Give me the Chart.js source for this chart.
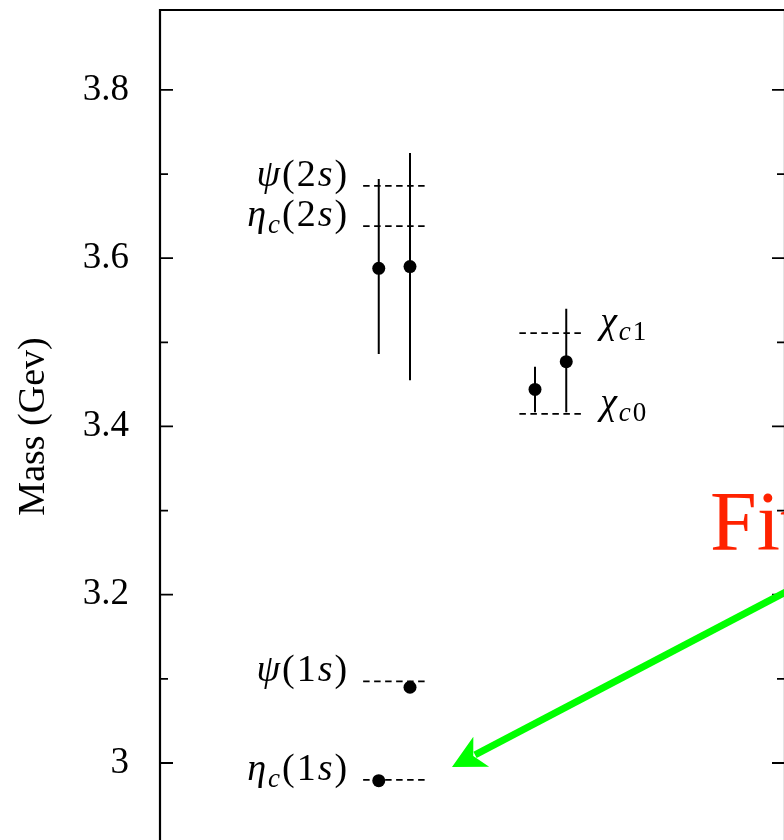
<!DOCTYPE html>
<html><head><meta charset="utf-8">
<script src="https://cdn.jsdelivr.net/npm/chart.js@4/dist/chart.umd.min.js"></script>
<style>
html,body{margin:0;padding:0;overflow:hidden;background:#fff;width:784px;height:840px}
#wrap{position:absolute;left:0;top:0;width:800px;height:960px}
</style>
</head><body>
<div id="wrap"><canvas id="c" width="800" height="960"></canvas></div>
<script>
// ---- data ----
const levelNames = ['ψ(2s)', 'η_c(2s)', 'χ_c1', 'χ_c0', 'ψ(1s)', 'η_c(1s)'];
const levelMass  = [3.686, 3.638, 3.511, 3.415, 3.097, 2.980];
const levelXFrom = [3.25, 3.25, 5.75, 5.75, 3.25, 3.25];
const levelXTo   = [4.27, 4.27, 6.77, 6.77, 4.27, 4.27];
const levelLabelSide = ['left', 'left', 'right', 'right', 'left', 'left'];

const pointX    = [3.5, 4.0, 6.0, 6.5, 4.0, 3.5];
const pointMass = [3.588, 3.590, 3.444, 3.477, 3.090, 2.979];
const errLow    = [3.486, 3.455, 3.417, 3.417, null, null];
const errHigh   = [3.694, 3.725, 3.471, 3.540, null, null];

const majorTicks = [3.0, 3.2, 3.4, 3.6, 3.8];
const majorTickLabels = ['3', '3.2', '3.4', '3.6', '3.8'];
const minorTicks = [2.9, 3.1, 3.3, 3.5, 3.7];
const yTitle = 'Mass (Gev)';

const noteText = 'Fit';
const noteAt = {x: 8.80, y: 3.2532};
const arrowFrom = {x: 10.4, y: 3.2183};
const arrowTo = {x: 4.672, y: 2.9952};

// ---- build datasets ----
const datasets = [];
datasets.push({
  type: 'scatter',
  data: pointX.map((x, i) => ({x: x, y: pointMass[i]})),
  pointRadius: 6.5, pointBackgroundColor: '#000', pointBorderWidth: 0,
  pointHoverRadius: 6.5
});
errLow.forEach((lo, i) => {
  if (lo === null) return;
  datasets.push({
    type: 'line',
    data: [{x: pointX[i], y: lo}, {x: pointX[i], y: errHigh[i]}],
    borderColor: '#000', borderWidth: 2, pointRadius: 0, fill: false
  });
});
levelMass.forEach((m, i) => {
  datasets.push({
    type: 'line',
    data: [{x: levelXFrom[i], y: m}, {x: levelXTo[i], y: m}],
    borderColor: '#000', borderWidth: 1.7, borderDash: [6.5, 4.5], pointRadius: 0, fill: false
  });
});

const FAM = '"Liberation Serif", "DejaVu Serif", serif';

function parseLabel(s) {
  const runs = [];
  let i = 0;
  while (i < s.length) {
    const ch = s[i];
    if (ch === '_') {
      i++;
      while (i < s.length && /[A-Za-z0-9]/.test(s[i])) {
        runs.push({t: s[i], sub: true, it: /[A-Za-z]/.test(s[i])});
        i++;
      }
      continue;
    }
    runs.push({t: ch, sub: false, it: !/[0-9()\s]/.test(ch)});
    i++;
  }
  return runs;
}

function drawRich(ctx, s, x, y, align) {
  const size = 38, subSize = 27, subShift = 7, gap = 2;
  const runs = parseLabel(s);
  const fontOf = r => (r.it ? 'italic ' : '') + (r.sub ? subSize : size) + 'px ' + FAM;
  let total = 0;
  runs.forEach(r => { ctx.font = fontOf(r); r.w = ctx.measureText(r.t).width + gap; total += r.w; });
  total -= gap;
  let cx = align === 'right' ? x - total : x;
  ctx.textBaseline = 'alphabetic';
  ctx.textAlign = 'left';
  runs.forEach(r => {
    ctx.font = fontOf(r);
    ctx.fillText(r.t, cx, y + (r.sub ? subShift : 0));
    cx += r.w;
  });
}

const decor = {
  id: 'decor',
  afterDraw(chart) {
    const ctx = chart.ctx;
    const ys = chart.scales.y, xs = chart.scales.x;
    const a = chart.chartArea;
    ctx.save();
    // frame
    ctx.strokeStyle = '#000';
    ctx.lineWidth = 2.2;
    ctx.beginPath();
    ctx.moveTo(a.left, a.bottom); ctx.lineTo(a.left, a.top); ctx.lineTo(a.right, a.top); ctx.lineTo(a.right, a.bottom);
    ctx.stroke();
    // ticks inward
    ctx.lineWidth = 1.8;
    const tick = (v, len) => {
      const py = ys.getPixelForValue(v);
      if (py < a.top || py > a.bottom) return;
      ctx.beginPath();
      ctx.moveTo(a.left, py); ctx.lineTo(a.left + len, py);
      ctx.moveTo(a.right, py); ctx.lineTo(a.right - len, py);
      ctx.stroke();
    };
    majorTicks.forEach(v => tick(v, 13));
    minorTicks.forEach(v => tick(v, 8));
    // y title
    ctx.fillStyle = '#000';
    ctx.save();
    ctx.translate(34, ys.getPixelForValue(3.4));
    ctx.rotate(-Math.PI / 2);
    ctx.font = '38px ' + FAM;
    ctx.textAlign = 'center';
    ctx.textBaseline = 'middle';
    ctx.fillText(yTitle, 0, 0);
    ctx.restore();
    // level labels
    levelNames.forEach((n, i) => {
      const py = ys.getPixelForValue(levelMass[i]);
      if (levelLabelSide[i] === 'left') {
        drawRich(ctx, n, xs.getPixelForValue(levelXFrom[i]) - 16, py, 'right');
      } else {
        drawRich(ctx, n, xs.getPixelForValue(levelXTo[i]) + 17, py, 'left');
      }
    });
    // note text
    ctx.fillStyle = '#ff2200';
    ctx.font = '84px ' + FAM;
    ctx.textAlign = 'left';
    ctx.textBaseline = 'alphabetic';
    ctx.fillText(noteText, xs.getPixelForValue(noteAt.x), ys.getPixelForValue(noteAt.y));
    // arrow
    const x0 = xs.getPixelForValue(arrowFrom.x), y0 = ys.getPixelForValue(arrowFrom.y);
    const x1 = xs.getPixelForValue(arrowTo.x), y1 = ys.getPixelForValue(arrowTo.y);
    const L = Math.hypot(x1 - x0, y1 - y0);
    const ux = (x1 - x0) / L, uy = (y1 - y0) / L;
    const nx = -uy, ny = ux;
    ctx.strokeStyle = '#00ff00';
    ctx.fillStyle = '#00ff00';
    ctx.lineWidth = 7;
    ctx.beginPath();
    ctx.moveTo(x0, y0);
    ctx.lineTo(x1 - ux * 26, y1 - uy * 26);
    ctx.stroke();
    ctx.beginPath();
    ctx.moveTo(x1, y1);
    ctx.lineTo(x1 - ux * 33 + nx * 17, y1 - uy * 33 + ny * 17);
    ctx.lineTo(x1 - ux * 24, y1 - uy * 24);
    ctx.lineTo(x1 - ux * 33 - nx * 17, y1 - uy * 33 - ny * 17);
    ctx.closePath();
    ctx.fill();
    ctx.restore();
  }
};

new Chart(document.getElementById('c'), {
  type: 'scatter',
  data: {datasets: datasets},
  options: {
    responsive: false,
    animation: false,
    events: [],
    layout: {padding: {left: 0, top: 10, right: 15, bottom: 28.75}},
    plugins: {legend: {display: false}, tooltip: {enabled: false}},
    scales: {
      x: {type: 'linear', min: 0, max: 10, display: false},
      y: {
        type: 'linear', min: 2.8, max: 3.895,
        grid: {display: false, drawTicks: false},
        border: {display: false},
        afterBuildTicks: s => { s.ticks = majorTicks.map(v => ({value: v})); },
        afterFit: s => { s.width = 160; s.paddingTop = 0; s.paddingBottom = 0; },
        ticks: {
          padding: 31, color: '#000',
          font: {family: FAM, size: 37},
          callback: v => { const k = majorTicks.findIndex(t => Math.abs(t - v) < 1e-9); return k >= 0 ? majorTickLabels[k] : ''; }
        }
      }
    }
  },
  plugins: [decor]
});
</script>
</body></html>
